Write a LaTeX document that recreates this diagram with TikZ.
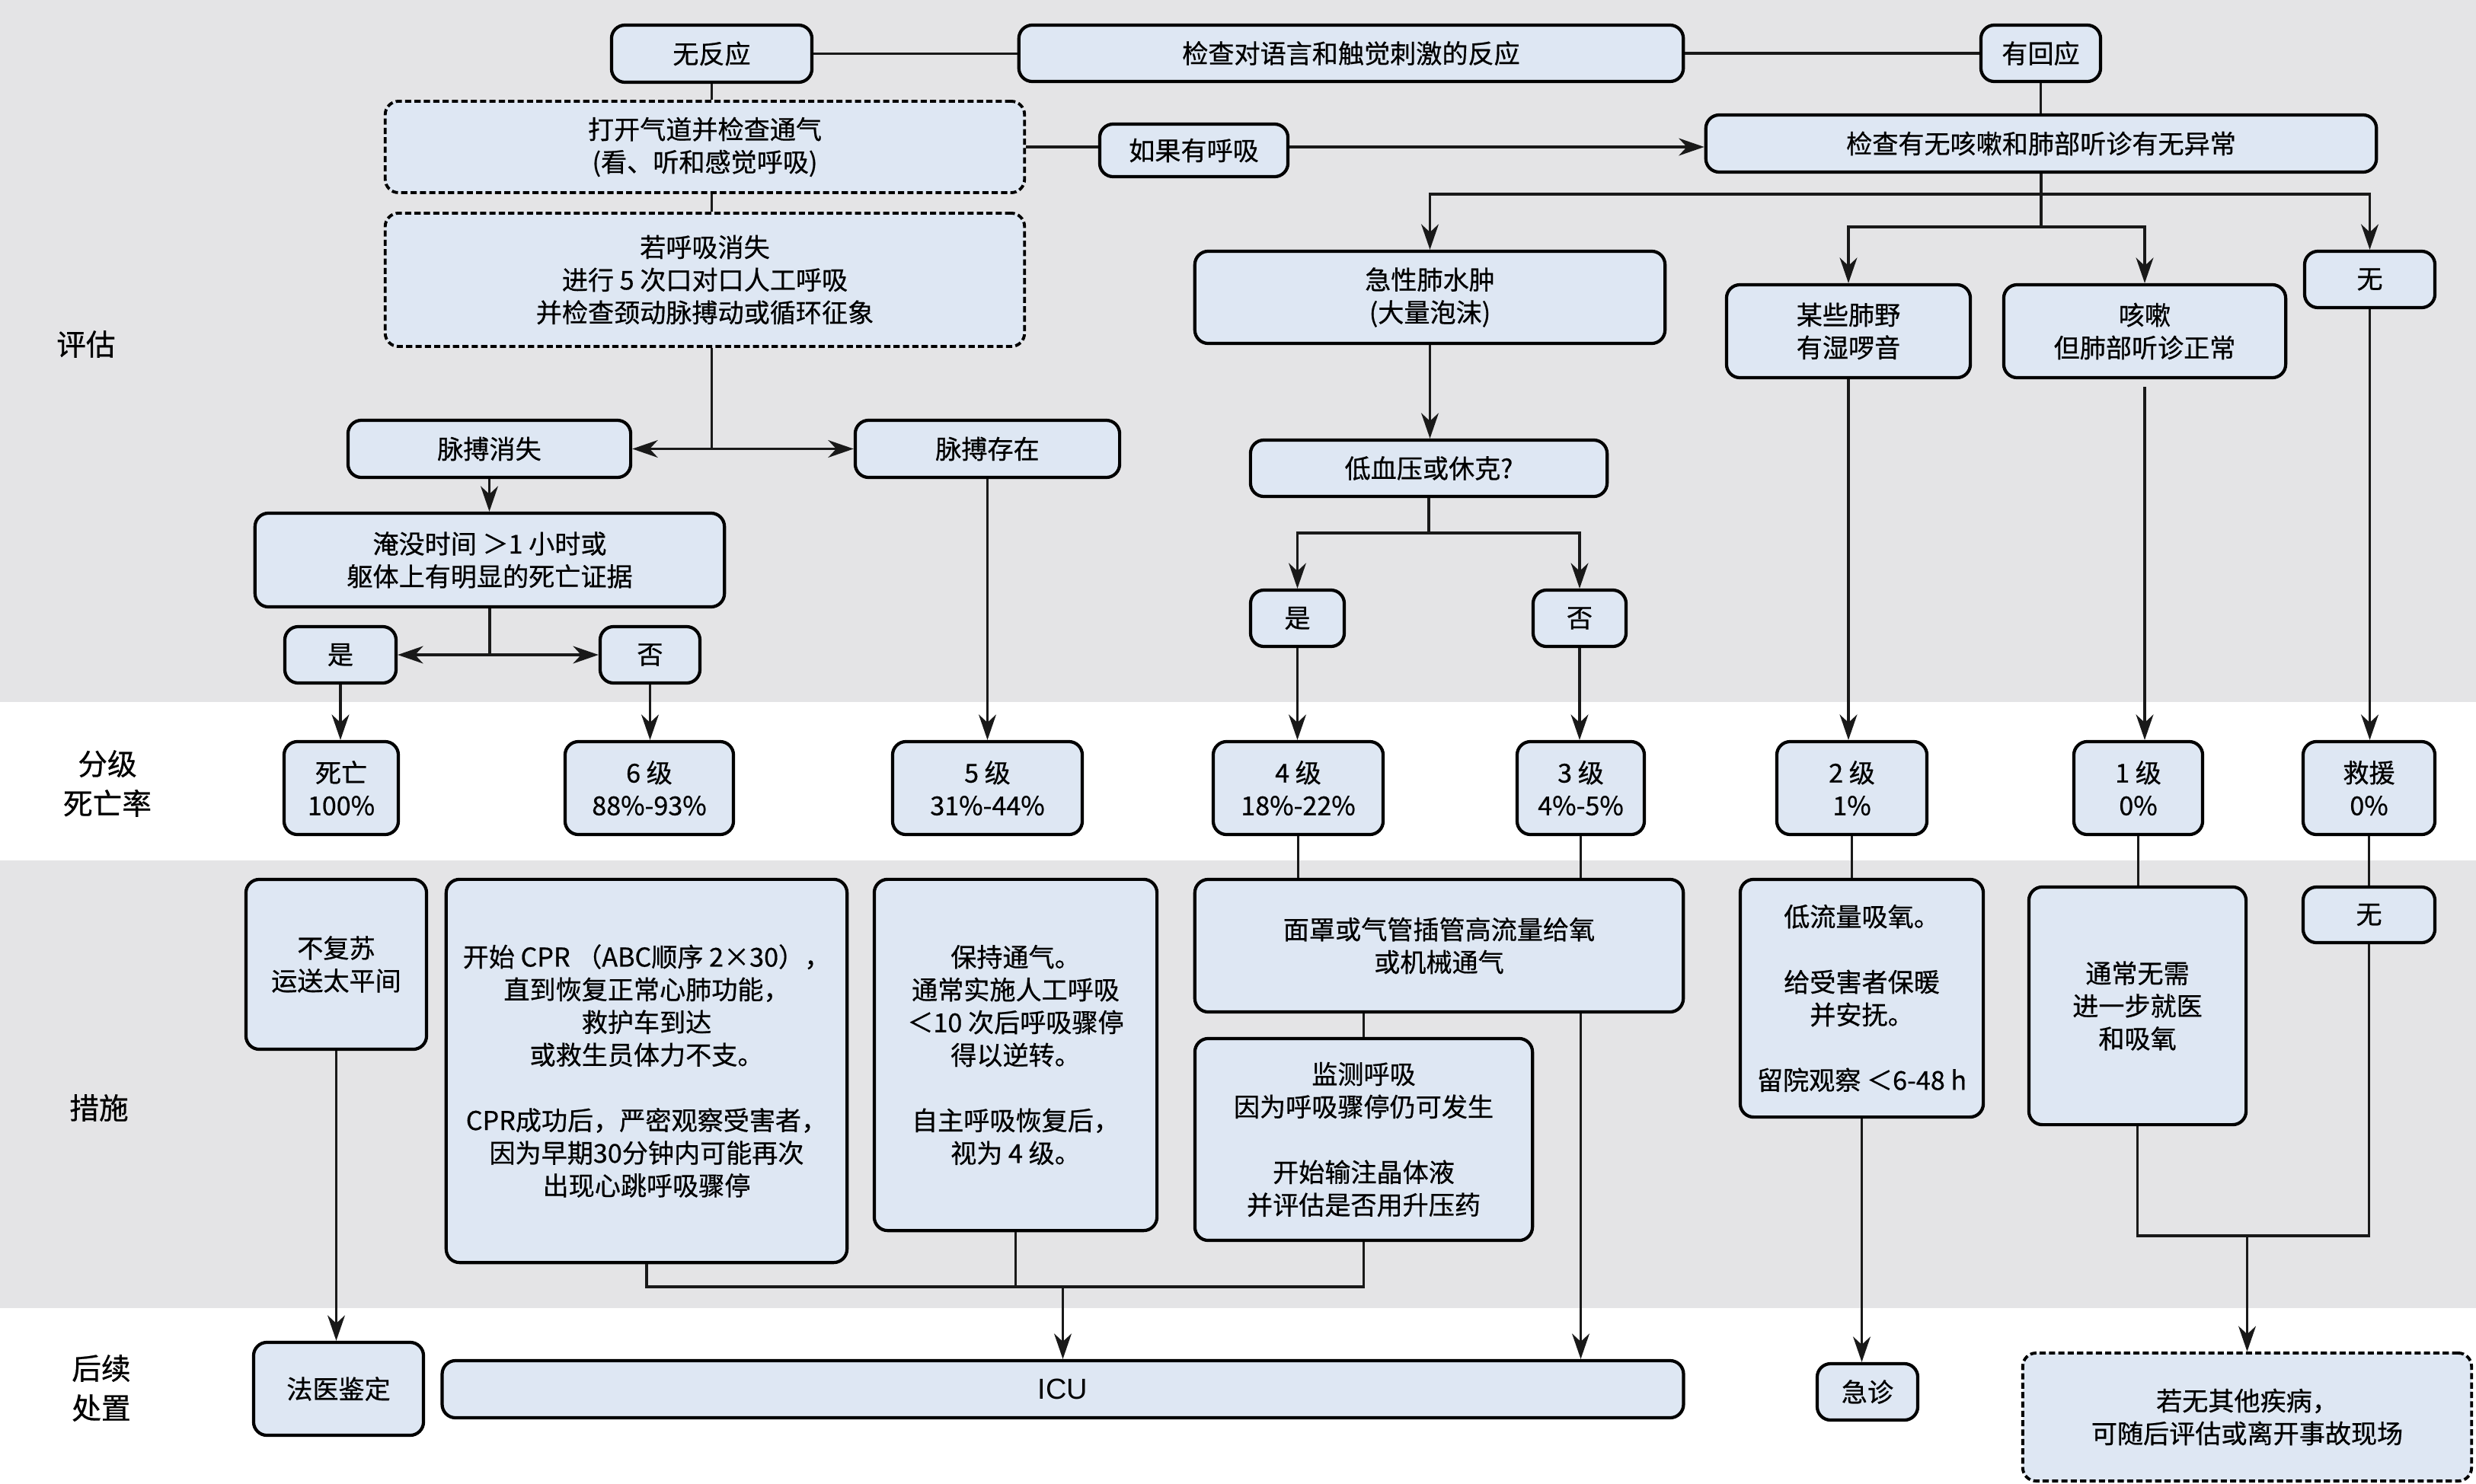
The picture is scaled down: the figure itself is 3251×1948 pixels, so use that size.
\documentclass[tikz,border=0pt]{standalone}
\usepackage{fontspec}
\setmainfont{Noto Sans CJK SC}[FakeBold=0.6]
\newfontfamily\latinsans{Liberation Sans}
\usetikzlibrary{arrows.meta}
\definecolor{bandgray}{RGB}{228,228,230}
\definecolor{boxblue}{RGB}{222,231,243}
\begin{document}
\begin{tikzpicture}[x=0.01cm,y=-0.01cm,
  box/.style={draw=black, line width=1.2pt, fill=boxblue, rounded corners=5pt, align=center, inner sep=0pt, font=\fontsize{9.7pt}{12.2pt}\selectfont},
  dbox/.style={box, line width=1.1pt, dash pattern=on 2.3pt off 1.2pt},
  conn/.style={line width=0.9pt, draw=black!90},
  arr/.style={conn, -{Stealth[length=9.5pt,width=6.5pt,inset=3pt]}},
  darr/.style={conn, {Stealth[length=9.5pt,width=6.5pt,inset=3pt]}-{Stealth[length=9.5pt,width=6.5pt,inset=3pt]}},
  seclabel/.style={font=\fontsize{11pt}{14.8pt}\selectfont, align=center, inner sep=0pt}]
\useasboundingbox (0,0) rectangle (3251,1948);
\fill[white] (0,0) rectangle (3251,1948);
\fill[bandgray] (0,0) rectangle (3251,922);
\fill[bandgray] (0,1130) rectangle (3251,1718);

% section labels
\node[seclabel] (lbA) at (113,452) {评估};
\node[seclabel] (lbB) at (141,1029) {分级\\死亡率};
\node[seclabel] (lbC) at (130,1455) {措施};
\node[seclabel] (lbD) at (133,1823) {后续\\处置};

% assessment
\node[box,minimum width=2.63cm,minimum height=0.75cm] (nofan) at (934.5,70.5) {无反应};
\node[box,minimum width=8.72cm,minimum height=0.74cm] (check1) at (1774,70) {检查对语言和触觉刺激的反应};
\node[box,minimum width=1.57cm,minimum height=0.74cm] (youhui) at (2679.5,70) {有回应};
\node[dbox,minimum width=8.39cm,minimum height=1.20cm] (open) at (925.5,193) {打开气道并检查通气\\(看、听和感觉呼吸)};
\node[dbox,minimum width=8.39cm,minimum height=1.75cm] (ruohu) at (925.5,367.5) {若呼吸消失\\进行 5 次口对口人工呼吸\\并检查颈动脉搏动或循环征象};
\node[box,minimum width=2.47cm,minimum height=0.69cm] (ruguo) at (1567.5,197.5) {如果有呼吸};
\node[box,minimum width=8.80cm,minimum height=0.75cm] (check2) at (2680,188.5) {检查有无咳嗽和肺部听诊有无异常};
\node[box,minimum width=6.17cm,minimum height=1.21cm] (edema) at (1877.5,390.5) {急性肺水肿\\(大量泡沫)};
\node[box,minimum width=3.20cm,minimum height=1.22cm] (moxie) at (2427,435) {某些肺野\\有湿啰音};
\node[box,minimum width=3.70cm,minimum height=1.22cm] (kesou) at (2816,435) {咳嗽\\但肺部听诊正常};
\node[box,minimum width=1.71cm,minimum height=0.74cm] (wuA) at (3111.5,367) {无};
\node[box,minimum width=3.71cm,minimum height=0.75cm] (mbxs) at (642.5,589.5) {脉搏消失};
\node[box,minimum width=3.47cm,minimum height=0.75cm] (mbcz) at (1296.5,589.5) {脉搏存在};
\node[box,minimum width=6.16cm,minimum height=1.23cm] (yanmo) at (643,735.5) {淹没时间 ＞1 小时或\\躯体上有明显的死亡证据};
\node[box,minimum width=1.46cm,minimum height=0.74cm] (shiA) at (447,860) {是};
\node[box,minimum width=1.31cm,minimum height=0.74cm] (fouA) at (853.5,860) {否};
\node[box,minimum width=4.68cm,minimum height=0.74cm] (dixue) at (1876,615) {低血压或休克?};
\node[box,minimum width=1.23cm,minimum height=0.74cm] (shiB) at (1703.5,812) {是};
\node[box,minimum width=1.22cm,minimum height=0.74cm] (fouB) at (2074,812) {否};

% grades
\node[box,minimum width=1.50cm,minimum height=1.22cm] (gD) at (448,1035) {死亡\\100\%};
\node[box,minimum width=2.21cm,minimum height=1.22cm] (g6) at (852.5,1035) {6 级\\88\%-93\%};
\node[box,minimum width=2.49cm,minimum height=1.22cm] (g5) at (1296.5,1035) {5 级\\31\%-44\%};
\node[box,minimum width=2.23cm,minimum height=1.22cm] (g4) at (1704.5,1035) {4 级\\18\%-22\%};
\node[box,minimum width=1.67cm,minimum height=1.22cm] (g3) at (2075.5,1035) {3 级\\4\%-5\%};
\node[box,minimum width=1.97cm,minimum height=1.22cm] (g2) at (2431.5,1035) {2 级\\1\%};
\node[box,minimum width=1.69cm,minimum height=1.22cm] (g1) at (2807.5,1035) {1 级\\0\%};
\node[box,minimum width=1.73cm,minimum height=1.22cm] (gR) at (3110.5,1035) {救援\\0\%};

% measures
\node[box,minimum width=2.37cm,minimum height=2.23cm] (bufu) at (441.5,1266.5) {不复苏\\运送太平间};
\node[box,minimum width=5.26cm,minimum height=5.03cm] (cpr) at (849,1406.5) {开始 CPR （ABC顺序 2×30），\\直到恢复正常心肺功能，\\救护车到达\\或救生员体力不支。\\[0.43cm]CPR成功后，严密观察受害者，\\因为早期30分钟内可能再次\\出现心跳呼吸骤停};
\node[box,minimum width=3.71cm,minimum height=4.61cm] (baochi) at (1333.5,1385.5) {保持通气。\\通常实施人工呼吸\\＜10 次后呼吸骤停\\得以逆转。\\[0.43cm]自主呼吸恢复后，\\视为 4 级。};
\node[box,minimum width=6.41cm,minimum height=1.74cm] (mianzhao) at (1889.5,1242) {面罩或气管插管高流量给氧\\或机械通气};
\node[box,minimum width=4.43cm,minimum height=2.65cm] (jiance) at (1790.5,1496.5) {监测呼吸\\因为呼吸骤停仍可发生\\[0.43cm]开始输注晶体液\\并评估是否用升压药};
\node[box,minimum width=3.19cm,minimum height=3.12cm] (diliu) at (2444.5,1311) {低流量吸氧。\\[0.43cm]给受害者保暖\\并安抚。\\[0.43cm]留院观察 ＜6-48 h};
\node[box,minimum width=2.85cm,minimum height=3.12cm] (tongchang) at (2806.5,1321) {通常无需\\进一步就医\\和吸氧};
\node[box,minimum width=1.73cm,minimum height=0.73cm] (wuB) at (3110.5,1201.5) {无};

% follow-up
\node[box,minimum width=2.23cm,minimum height=1.22cm] (fayi) at (444.5,1824) {法医鉴定};
\node[box,minimum width=16.29cm,minimum height=0.75cm,font=\latinsans\fontsize{10.8pt}{13pt}\selectfont] (icu) at (1395.5,1824.5) {ICU};
\node[box,minimum width=1.32cm,minimum height=0.74cm] (jizhen) at (2452,1828) {急诊};
\node[dbox,minimum width=5.89cm,minimum height=1.68cm] (ruowu) at (2950.5,1861) {若无其他疾病，\\可随后评估或离开事故现场};

% level coordinates
\coordinate (lvlA) at (0,255);
\coordinate (lvlB) at (0,298);
\coordinate (lvlC) at (0,700);
\coordinate (lvlD) at (0,1690);
\coordinate (lvlE) at (0,1623);

% connectors: top
\draw[conn] (nofan.east) -- (nofan.east -| check1.west);
\draw[conn] (check1.east) -- (check1.east -| youhui.west);
\draw[conn] (nofan.south) -- (nofan.south |- open.north);
\draw[conn] (nofan.south |- open.south) -- (nofan.south |- ruohu.north);
\coordinate (jA) at (nofan.south |- mbxs.east);
\draw[conn] (nofan.south |- ruohu.south) -- (jA);
\draw[darr] (mbxs.east) -- (mbcz.west);
\draw[conn] (open.east) -- (open.east -| ruguo.west);
\draw[arr] (open.east -| ruguo.east) -- (open.east -| check2.west);
\draw[conn] (youhui.south) -- (youhui.south |- check2.north);
\draw[conn] (check2.south) -- (check2.south |- lvlB);
\draw[arr] (check2.south |- lvlA) -| (edema.north);
\draw[arr] (check2.south |- lvlA) -| (wuA.north);
\draw[arr] (check2.south |- lvlB) -| (moxie.north);
\draw[arr] (check2.south |- lvlB) -| (kesou.north);

\draw[arr] (mbxs.south) -- (mbxs.south |- yanmo.north);
\coordinate (jB) at (yanmo.south |- shiA.east);
\draw[conn] (yanmo.south) -- (jB);
\draw[darr] (shiA.east) -- (shiA.east -| fouA.west);
\draw[arr] (shiA.south) -- (shiA.south |- gD.north);
\draw[arr] (fouA.south) -- (fouA.south |- g6.north);
\draw[arr] (mbcz.south) -- (mbcz.south |- g5.north);
\draw[arr] (edema.south) -- (edema.south |- dixue.north);
\draw[conn] (dixue.south) -- (dixue.south |- lvlC);
\draw[arr] (dixue.south |- lvlC) -| (shiB.north);
\draw[arr] (dixue.south |- lvlC) -| (fouB.north);
\draw[arr] (shiB.south) -- (shiB.south |- g4.north);
\draw[arr] (fouB.south) -- (fouB.south |- g3.north);
\draw[arr] (moxie.south) -- (moxie.south |- g2.north);
\draw[arr] ([yshift=-0.1cm]kesou.south) -- (kesou.south |- g1.north);
\draw[arr] (wuA.south) -- (wuA.south |- gR.north);

% connectors: measures
\draw[conn] (g4.south) -- (g4.south |- mianzhao.north);
\draw[conn] (g3.south) -- (g3.south |- mianzhao.north);
\draw[arr] (g3.south |- mianzhao.south) -- (g3.south |- icu.north);
\draw[conn] (jiance.north |- mianzhao.south) -- (jiance.north);
\draw[arr] (bufu.south) -- (bufu.south |- fayi.north);
\draw[conn] (cpr.south) -- (cpr.south |- lvlD) -- (jiance.south |- lvlD) -- (jiance.south);
\draw[conn] (baochi.south) -- (baochi.south |- lvlD);
\draw[arr] (icu.north |- lvlD) -- (icu.north);
\draw[conn] (g2.south) -- (g2.south |- diliu.north);
\draw[arr] (diliu.south) -- (diliu.south |- jizhen.north);
\draw[conn] (g1.south) -- (g1.south |- tongchang.north);
\draw[conn] (gR.south) -- (gR.south |- wuB.north);
\draw[conn] (tongchang.south) -- (tongchang.south |- lvlE) -- (wuB.south |- lvlE) -- (wuB.south);
\draw[arr] (ruowu.north |- lvlE) -- (ruowu.north);
\end{tikzpicture}
\end{document}
